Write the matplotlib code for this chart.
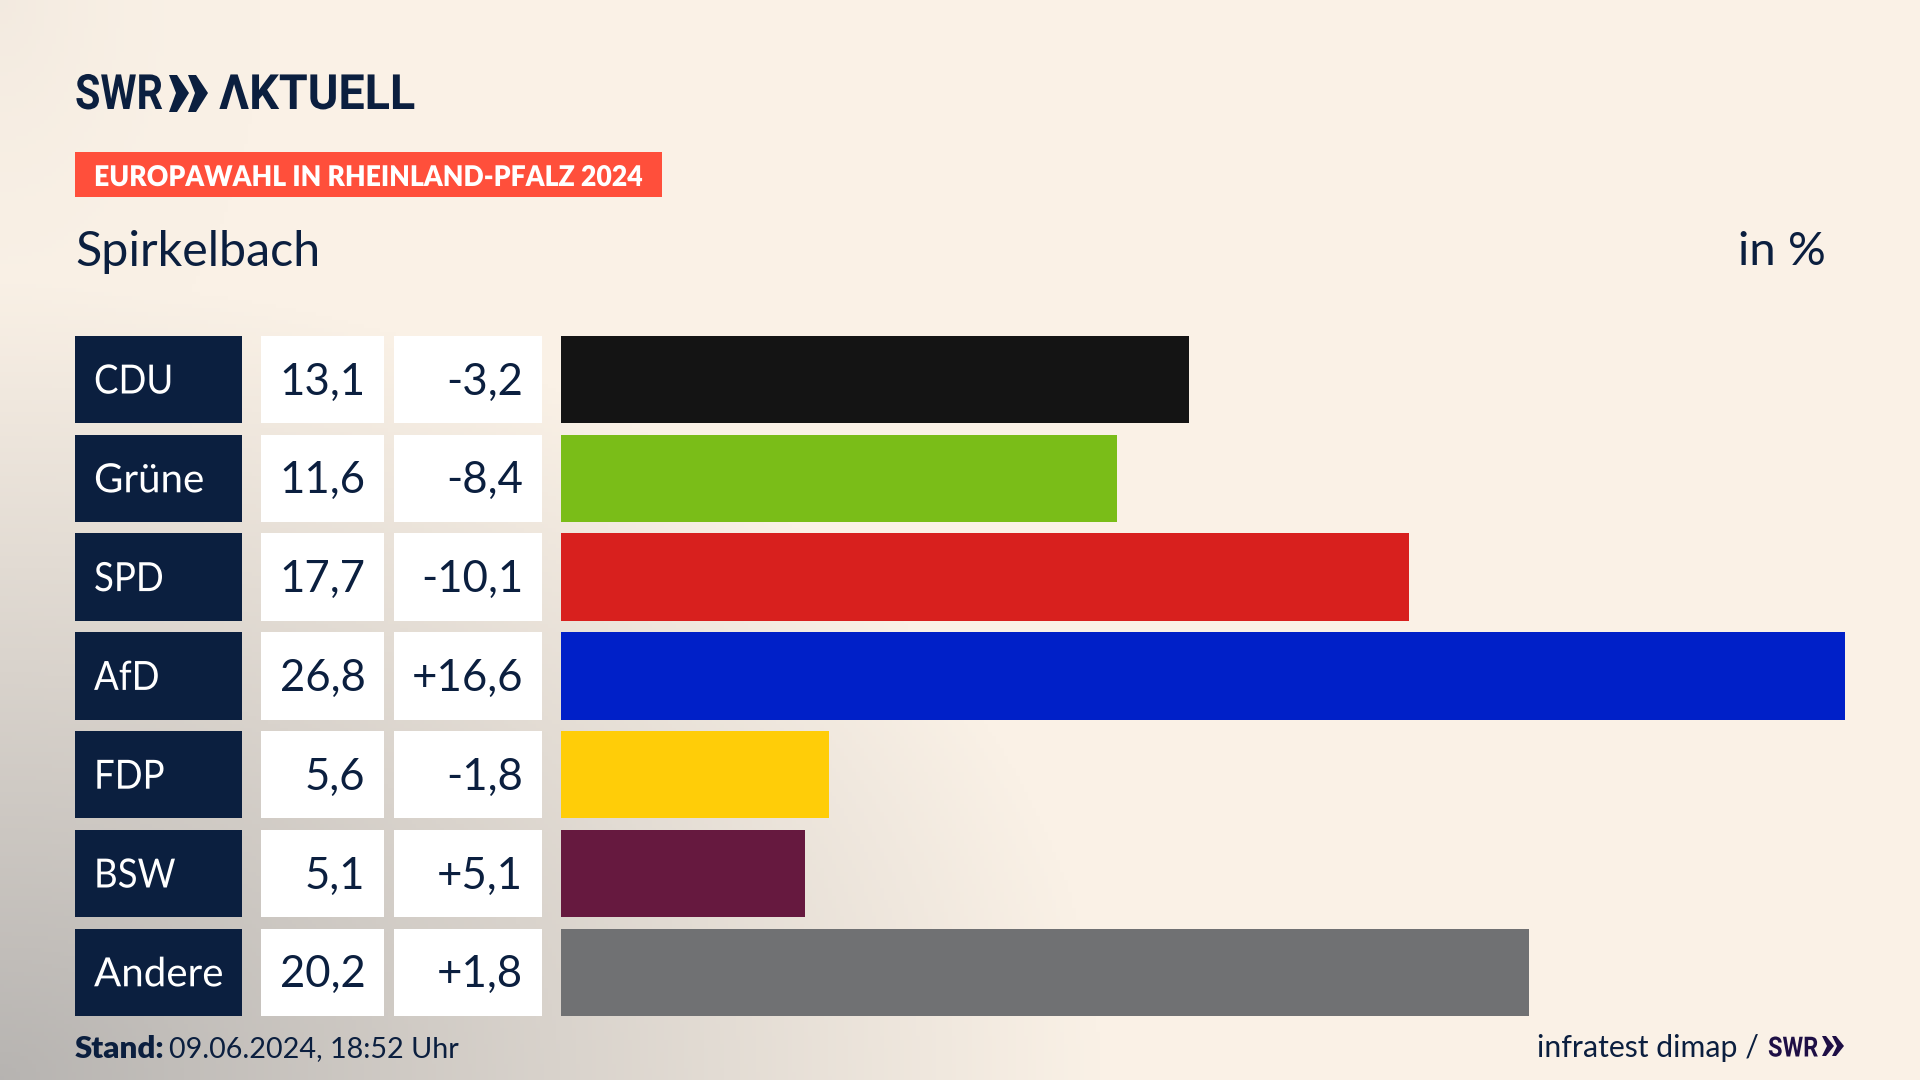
import numpy as np
import matplotlib
matplotlib.use("Agg")
import matplotlib.pyplot as plt
from matplotlib.patches import Polygon, Rectangle
from matplotlib.patheffects import AbstractPathEffect
from matplotlib.transforms import Affine2D

# data
parties = ['CDU', 'Grüne', 'SPD', 'AfD', 'FDP', 'BSW', 'Andere']
shares = [13.1, 11.6, 17.7, 26.8, 5.6, 5.1, 20.2]
changes = [-3.2, -8.4, -10.1, 16.6, -1.8, 5.1, 1.8]
bar_colors = ['#141414', '#7ABD18', '#D8201E', '#0020C8', '#FFCD08', '#66193F', '#707173']

NAVY = '#0B1F3F'
BODY = 'Lato'
LOGO = 'Roboto'
W, H = 1920, 1080
ROW_Y0, ROW_STEP, ROW_H = 379.5, 98.8, 87.5


class Squeeze(AbstractPathEffect):
    # schmalere schrift, es gibt hier keine condensed fonts
    def __init__(self, x0, sx):
        super().__init__()
        self.x0, self.sx = x0, sx

    def draw_path(self, renderer, gc, tpath, affine, rgbFace=None):
        t = affine + Affine2D().translate(-self.x0, 0).scale(self.sx, 1).translate(self.x0, 0)
        renderer.draw_path(gc, tpath, t, rgbFace)


def de(v, sign=False):
    s = f'{v:+.1f}' if sign else f'{v:.1f}'
    return s.replace('.', ',')


fig = plt.figure(figsize=(19.2, 10.8), dpi=100)

# hintergrund: creme mit grauem verlauf von unten links
bg = fig.add_axes([0, 0, 1, 1], zorder=0)
yy, xx = np.mgrid[0:H:270j, 0:W:480j]
d_corner = np.hypot(xx / 1100.0, (H - yy) / 800.0)
d_top = np.hypot(xx / 260.0, yy / 420.0)
shade = np.clip(1 - d_corner, 0, 1) * 0.55 + np.clip(1 - d_top, 0, 1) ** 2 * 0.06
cream = np.array([250, 241, 230]) / 255
grey = np.array([128, 130, 134]) / 255
bg.imshow(cream[None, None, :] * (1 - shade[..., None]) + grey[None, None, :] * shade[..., None],
          extent=[0, W, H, 0], aspect='auto')
bg.axis('off')

# pixel-achse fuer alles ausser den balken
ax = fig.add_axes([0, 0, 1, 1], zorder=1)
ax.set_xlim(0, W)
ax.set_ylim(H, 0)
ax.axis('off')
ax.patch.set_alpha(0)

# logo
ax.text(75, 96, 'SWR', family=LOGO, weight='bold', fontsize=35, color=NAVY, va='center', ha='left',
        path_effects=[Squeeze(75, 0.85)])
for x0 in (169, 188):
    ax.add_patch(Polygon([[x0, 75], [x0 + 8, 75], [x0 + 20, 93], [x0 + 8, 112], [x0, 112], [x0 + 7, 93]],
                         color=NAVY, lw=0))
ax.text(219, 96, 'ΛKTUELL', family=LOGO, weight='bold', fontsize=35, color=NAVY, va='center', ha='left',
        path_effects=[Squeeze(219, 0.96)])

# titelband
ax.add_patch(Rectangle((75, 152), 587, 45, color='#FF4F3B', lw=0))
ax.text(94, 178, 'EUROPAWAHL IN RHEINLAND-PFALZ 2024', family=BODY, weight='heavy', fontsize=20.5,
        color='white', va='center', ha='left', path_effects=[Squeeze(94, 0.935)])
ax.text(75, 252, 'Spirkelbach', family=BODY, fontsize=34.8, color=NAVY, va='center', ha='left')
ax.text(1826, 252, 'in %', family=BODY, fontsize=34, color=NAVY, va='center', ha='right')

# tabelle
for i, (p, s, c) in enumerate(zip(parties, shares, changes)):
    y = ROW_Y0 + i * ROW_STEP
    top = y - ROW_H / 2
    ax.add_patch(Rectangle((75, top), 167, ROW_H, color=NAVY, lw=0))
    ax.add_patch(Rectangle((261, top), 123, ROW_H, color='white', lw=0))
    ax.add_patch(Rectangle((394, top), 148, ROW_H, color='white', lw=0))
    narrow = p in ('CDU', 'SPD', 'AfD', 'FDP', 'BSW')
    ax.text(94, y + 2.5, p, family=BODY, fontsize=29, color='white', va='center', ha='left',
            path_effects=[Squeeze(94, 0.91 if narrow else 1.0)])
    ax.text(365.5, y + 2.5, de(s), family=BODY, fontsize=31.5, color=NAVY, va='center', ha='right')
    ax.text(523, y + 2.5, de(c, sign=True), family=BODY, fontsize=31.5, color=NAVY, va='center', ha='right')

# balken
y_low = ROW_Y0 + 6.5 * ROW_STEP
y_high = ROW_Y0 - 0.5 * ROW_STEP
bax = fig.add_axes([561 / W, 1 - y_low / H, (1845 - 561) / W, (y_low - y_high) / H], zorder=2)
bax.barh(range(len(parties)), shares, height=ROW_H / ROW_STEP, color=bar_colors)
bax.set_xlim(0, max(shares))
bax.set_ylim(6.5, -0.5)
bax.axis('off')
bax.patch.set_alpha(0)

# fusszeile
ax.text(75, 1049, 'Stand:', family=BODY, weight='heavy', fontsize=22.5, color=NAVY, va='center', ha='left')
ax.text(169, 1049, '09.06.2024, 18:52 Uhr', family=BODY, fontsize=20.7, color=NAVY, va='center', ha='left')
ax.text(1759, 1048, 'infratest dimap /', family=BODY, fontsize=21.8, color=NAVY, va='center', ha='right')
ax.text(1768, 1049, 'SWR', family=LOGO, weight='bold', fontsize=20, color='#1E0F45', va='center', ha='left',
        path_effects=[Squeeze(1768, 0.85)])
for x0 in (1822, 1832):
    ax.add_patch(Polygon([[x0, 1036], [x0 + 4, 1036], [x0 + 12, 1046], [x0 + 4, 1056], [x0, 1056], [x0 + 5, 1046]],
                         color='#1E0F45', lw=0))

fig.savefig('out.png', dpi=100)
